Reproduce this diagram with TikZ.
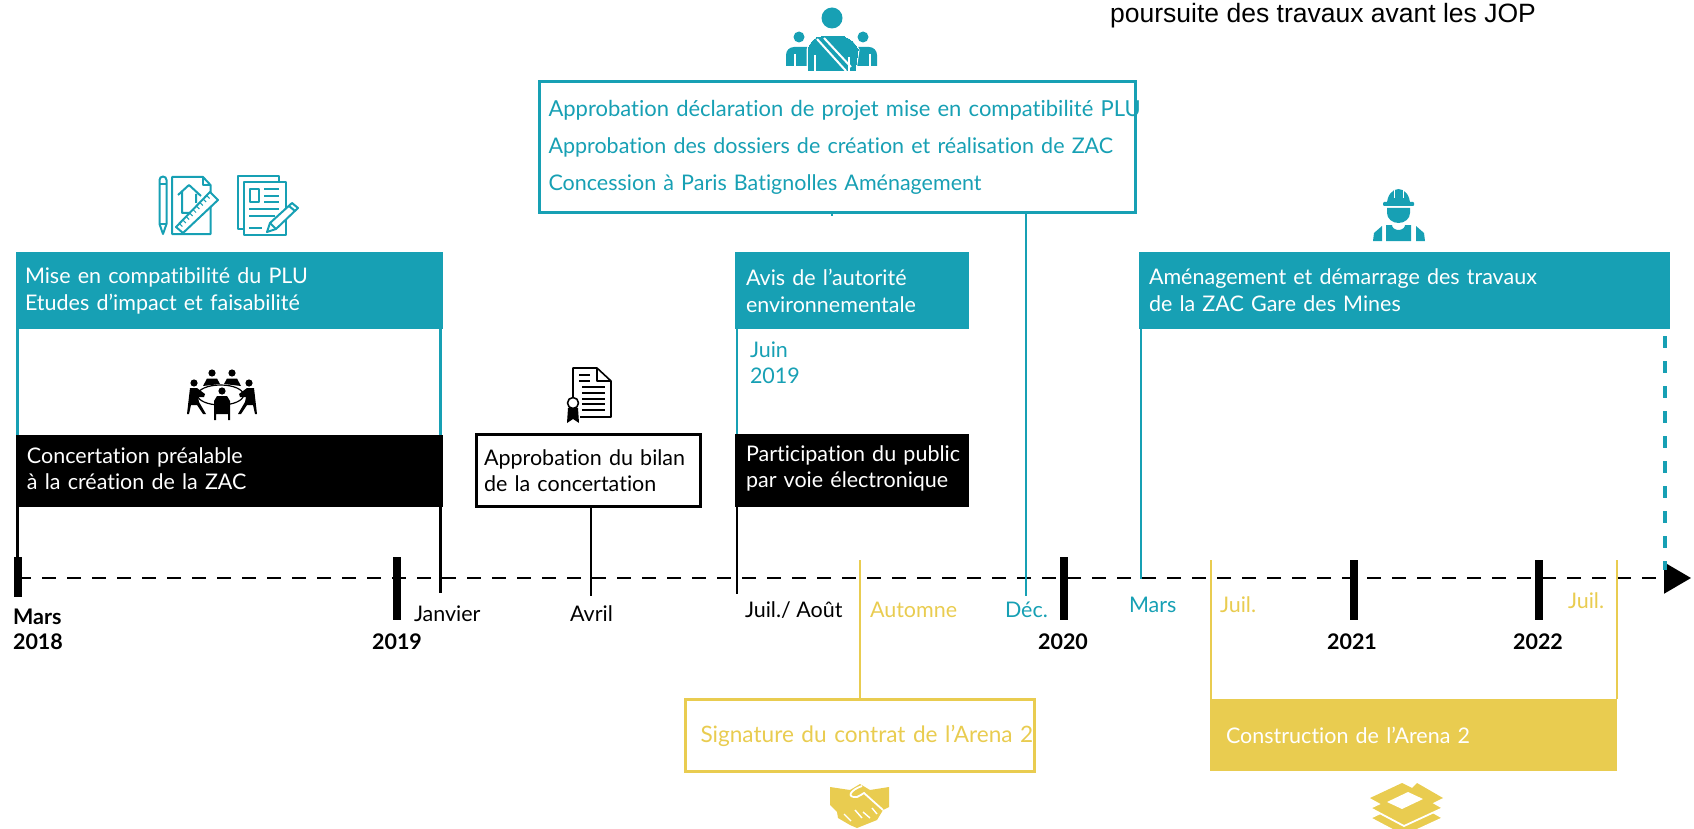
\documentclass[tikz,border=0pt]{standalone}
\usepackage{fontspec}
\setmainfont{Lato}[Ligatures=NoCommon]
\newfontfamily\arialfont{Liberation Sans}
\usetikzlibrary{arrows.meta,calc}
\definecolor{zacteal}{HTML}{17A0B4}
\definecolor{arenagold}{HTML}{E9CC50}
\newcommand{\liftbox}{\par\vspace{4pt}}
\tikzset{
    fullbox/.style={rectangle, anchor=north west, inner sep=0pt, outer sep=0pt, align=left, font=\fontsize{21.5}{27}\selectfont},
    tealbox/.style={fullbox, fill=zacteal, text=white},
    blackbox/.style={fullbox, fill=black, text=white, font=\fontsize{21.5}{26}\selectfont},
    goldbox/.style={fullbox, fill=arenagold, text=white},
    openbox/.style={fullbox, draw=#1, line width=3pt, fill=white},
    lab/.style={anchor=base west, inner sep=0pt, outer sep=0pt, font=\fontsize{21.5}{27}\selectfont},
    yearlab/.style={anchor=base, inner sep=0pt, outer sep=0pt, align=left, font=\fontsize{21.5}{25}\selectfont\bfseries},
    yeartick/.style={rectangle, fill=black, anchor=north, minimum width=8pt, inner sep=0pt, outer sep=0pt},
    blackline/.style={draw=black, line width=2.4pt},
    tealline/.style={draw=zacteal, line width=2.6pt},
    goldline/.style={draw=arenagold, line width=2.4pt},
    tealicon/.style={draw=zacteal, line width=2pt, line join=round},
    blackicon/.style={draw=black, line width=1.6pt, line join=round}
}
\begin{document}
\begin{tikzpicture}[x=1pt, y=-1pt]
    \useasboundingbox (0,0) rectangle (1694,829);

    % Axis
    \coordinate (axisstart) at (17,578);
    \coordinate (axisend) at (1691,578);
    \draw[line width=2.2pt, dash pattern=on 14pt off 11pt, -{Triangle[length=27pt, width=31pt]}] (axisstart) -- (axisend);

    % Boxes
    \node[tealbox, minimum width=427pt, minimum height=77pt, text width=409pt] at (16,252) (plu) {Mise en compatibilité du PLU\\Etudes d’impact et faisabilité};
    \node[blackbox, minimum width=427pt, minimum height=72pt, text width=405pt] at (16,435) (concert) {Concertation préalable\\à la création de la ZAC\liftbox};
    \node[openbox=black, minimum width=224pt, minimum height=72pt, text width=209pt, font=\fontsize{21.5}{26}\selectfont] at (476.5,434.5) (bilan) {Approbation du bilan\\de la concertation\liftbox};
    \node[tealbox, minimum width=234pt, minimum height=77pt, text width=212pt] at (735,252) (avis) {Avis de l’autorité\\environnementale};
    \node[blackbox, minimum width=234pt, minimum height=73pt, text width=212pt] at (735,434) (public) {\mbox{Participation du public}\\par voie électronique\liftbox};
    \node[openbox=zacteal, minimum width=596pt, minimum height=131pt, text width=578pt, text=zacteal, font=\fontsize{21.5}{37}\selectfont] at (539.5,81.5) (decl) {\mbox{\fontsize{22}{37}\selectfont Approbation déclaration de projet mise en compatibilité PLU}\\\mbox{Approbation des dossiers de création et réalisation de ZAC}\\Concession à Paris Batignolles Aménagement};
    \node[tealbox, minimum width=531pt, minimum height=77pt, text width=511pt] at (1139,252) (amenag) {Aménagement et démarrage des travaux\\de la ZAC Gare des Mines};
    \node[openbox=arenagold, minimum width=349pt, minimum height=72pt, text width=319pt, text=arenagold, line width=2.4pt, font=\fontsize{22.6}{27}\selectfont] at (685.5,699.5) (signature) {\mbox{Signature du contrat de l’Arena 2}};
    \node[goldbox, minimum width=407pt, minimum height=72pt, text width=375pt] at (1210,699) (arena) {Construction de l’Arena 2};

    % Ticks
    \node[yeartick, minimum height=40pt] at (18,557) (t2018) {};
    \node[yeartick, minimum height=63pt] at (397,557) (t2019) {};
    \node[yeartick, minimum height=63pt] at (1064,557) (t2020) {};
    \node[yeartick, minimum height=60pt] at (1354,560) (t2021) {};
    \node[yeartick, minimum height=60pt] at (1539,560) (t2022) {};

    % Free ends on the axis
    \coordinate (mars18) at (17.5,557);
    \coordinate (janv) at (440.5,593);
    \coordinate (avril) at (591,596);
    \coordinate (juil19) at (737,594);
    \coordinate (autom) at (860,560);
    \coordinate (dec) at (1026,596);
    \coordinate (mars20) at (1141,579);
    \coordinate (juil20) at (1211,560);
    \coordinate (juil22) at (1617,560);
    \coordinate (fin) at (1665,570);

    % Connectors
    \draw[blackline] (concert.south -| mars18) -- (mars18);
    \draw[blackline] (concert.south -| janv) -- (janv);
    \draw[blackline] (bilan.south -| avril) -- (avril);
    \draw[blackline] (public.south -| juil19) -- (juil19);
    \draw[tealline] (plu.south -| mars18) -- (concert.north -| mars18);
    \draw[tealline] (plu.south -| janv) -- (concert.north -| janv);
    \draw[tealline] (avis.south -| juil19) -- (public.north -| juil19);
    \draw[tealline] (decl.south -| dec) -- (dec);
    \draw[tealline] (amenag.south -| mars20) -- (mars20);
    \draw[tealline, line width=3.5pt, dash pattern=on 12pt off 13pt] (1665,336) coordinate (finhaut) -- (fin);
    \draw[goldline] (autom) -- (signature.north -| autom);
    \draw[goldline] (juil20) -- (arena.north -| juil20);
    \draw[goldline] (juil22) -- (arena.north -| juil22);

    % Labels
    \node[yearlab] at (38,649) (lmars) {Mars\\2018};
    \node[yearlab] at (397,649) (l2019) {2019};
    \node[yearlab] at (1063,649) (l2020) {2020};
    \node[yearlab] at (1352,649) (l2021) {2021};
    \node[yearlab] at (1538,649) (l2022) {2022};
    \node[lab] at (414,621) (ljanv) {Janvier};
    \node[lab] at (570,621) (lavril) {Avril};
    \node[lab] at (745,617) (ljuil) {Juil./ Août};
    \node[lab, text=arenagold] at (870,617) (lautom) {Automne};
    \node[lab, text=zacteal] at (1005,617) (ldec) {Déc.};
    \node[lab, text=zacteal] at (1129,612) (lmars20) {Mars};
    \node[lab, text=arenagold] at (1220,612) (ljuil20) {Juil.};
    \node[lab, text=arenagold] at (1568,608) (ljuil22) {Juil.};
    \node[lab, text=zacteal, align=left, font=\fontsize{21.5}{26}\selectfont] at (750,383) (ljuin) {Juin\\2019};
    \node[anchor=base west, inner sep=0pt, font=\arialfont\fontsize{26.5}{30}\selectfont] at (1110,23) (ljop) {poursuite des travaux avant les JOP};

    % Plan icon
    \draw[tealicon] (159.5,180) arc (180:360:3.5) -- (166.5,224) -- (163,234) -- (159.5,224) -- cycle;
    \draw[tealicon] (159.5,184) -- (166.5,184) (159.5,224) -- (166.5,224);
    \draw[tealicon] (172,177) -- (203,177) -- (210.5,185) -- (210.5,234) -- (172,234) -- cycle;
    \draw[tealicon] (203,177) -- (203,185) -- (210.5,185);
    \draw[tealicon] (178,195) -- (189,185) -- (201,196) (182,192) -- (182,213) -- (192,213) (196,194) -- (196,203);
    \draw[tealicon, fill=white] (176,227) -- (210,192) -- (218,200) -- (183,233) -- cycle;
    \foreach \t in {1,...,9}
        \draw[zacteal, line width=1pt] ($(176,227)!\t/10!(210,192)$) -- ++(3,3);

    % Document icon
    \draw[tealicon] (244,229) -- (238,229) -- (238,176) -- (279,176) -- (279,182);
    \draw[tealicon, fill=white] (244,182) -- (286,182) -- (286,235) -- (244,235) -- cycle;
    \draw[tealicon] (250,189) rectangle (259,202);
    \draw[tealicon] (264,189) -- (279,189) (264,196) -- (279,196) (264,202) -- (279,202);
    \draw[tealicon] (249,209) -- (279,209) (249,216) -- (275,216) (249,228) -- (262,228);
    \draw[tealicon, fill=white] (267,232) -- (270,223) -- (292,203) -- (298,208) -- (276,229) -- cycle;
    \draw[tealicon] (270,223) -- (276,229) (289,206) -- (295,211);

    % Meeting icon
    \draw[line width=1.2pt] (220.5,395) ellipse (23 and 10);
    \foreach \hx/\hy in {212/373, 232/373, 194/383, 249/383, 222/391}
        \fill (\hx,\hy) circle (3.6);
    \fill (203,386) -- (207,378.5) -- (217,378.5) -- (220,384) -- cycle;
    \fill (224,384) -- (227,378.5) -- (237,378.5) -- (241,386) -- cycle;
    \fill (190,388) -- (197,388) -- (205,394) -- (204,397) -- (198,397) -- (199,402) -- (206,414) -- (203,414) -- (197,405) -- (191,405) -- (189,414) -- (187,414) -- cycle;
    \fill (254,388) -- (247,388) -- (239,394) -- (240,397) -- (246,397) -- (245,402) -- (238,414) -- (241,414) -- (247,405) -- (253,405) -- (255,414) -- (257,414) -- cycle;
    \fill (217,396) -- (227,396) -- (230,401) -- (230,420) -- (228,420) -- (228,414) -- (216,414) -- (216,420) -- (214,420) -- (214,401) -- cycle;

    % Certificate icon
    \draw[blackicon] (573,397) -- (573,368) -- (597,368) -- (611,381) -- (611,417) -- (580,417);
    \draw[blackicon] (597,368) -- (597,381) -- (611,381);
    \draw[blackicon] (579,375) -- (590,375) (579,381) -- (590,381);
    \foreach \ly in {387,393,399,404,410}
        \draw[blackicon] (582,\ly) -- (605,\ly);
    \fill (568,408) -- (578,408) -- (579,423) -- (573,419) -- (567,423) -- cycle;
    \draw[blackicon, fill=white] (573,403) circle (5.5);

    % Group icon
    \fill[zacteal] (832,18) circle (10.5);
    \fill[zacteal] (799,37) circle (5.5);
    \fill[zacteal] (863,37) circle (5.5);
    \fill[zacteal] (786,66) -- (786,55) arc (180:270:8) -- (810,47) -- (810,66) -- cycle;
    \fill[zacteal] (877,66) -- (877,55) arc (0:-90:8) -- (853,47) -- (853,66) -- cycle;
    \draw[white, line width=1.5pt] (795,54) -- (795,66) (870,54) -- (870,66);
    \draw[zacteal, line width=0pt, fill=zacteal, preaction={draw=white, line width=3pt}] (808,71) -- (808,50) .. controls (810,42) and (815,37) .. (821,37) -- (844,37) .. controls (851,39) and (856,44) .. (858,50) -- (855,71) -- cycle;
    \draw[white, line width=2pt] (817,39) -- (846,71) (824,38) -- (851,67);
    \draw[white, line width=1.5pt] (815,55) -- (815,71) (849,57) -- (849,71);

    % Worker icon
    \fill[zacteal] (1387,204) arc (180:360:11.5 and 15) -- cycle;
    \fill[zacteal, rounded corners=1pt] (1383,202) rectangle (1414,206);
    \draw[white, line width=1pt] (1394,190) -- (1394,198) (1403,190) -- (1403,198);
    \fill[zacteal] (1387,208) -- (1410,208) -- (1410,213) arc (0:180:11.5 and 10) -- cycle;
    \fill[zacteal] (1386,241) -- (1386,225) -- (1392,225) arc (180:0:6.5 and 5) -- (1411,225) -- (1411,241) -- cycle;
    \fill[zacteal] (1373,241) -- (1374,233) -- (1382,226) -- (1382,241) -- cycle;
    \fill[zacteal] (1425,241) -- (1424,233) -- (1416,226) -- (1416,241) -- cycle;

    % Handshake icon
    \fill[arenagold] (830,787) -- (850,790) -- (860,784) -- (870,790) -- (889,787) -- (889,807) -- (883,810) -- (877,820) -- (857,828) -- (850,825) -- (838,818) -- (837,812) -- (830,805) -- cycle;
    \draw[white, line width=1.8pt] (862,786) .. controls (850,790) and (846,798) .. (857,797) .. controls (860,796) and (862,794) .. (864,793) -- (883,810);
    \draw[white, line width=1.4pt] (844,814) -- (851,821) (855,810) -- (862,818) (863,812) -- (870,818) (872,808) -- (877,814);

    % Stack icon
    \foreach \oy in {20,10}
        \draw[fill=arenagold, draw=white, line width=1.8pt] (1370,798+\oy) -- (1402,783+\oy) -- (1417,783+\oy) -- (1443,798+\oy) -- (1404,816+\oy) -- cycle;
    \fill[arenagold] (1370,798) -- (1402,783) -- (1412,788) -- (1417,783) -- (1443,798) -- (1404,817) -- cycle;
    \fill[white] (1387,802) -- (1408,792) -- (1423,799) -- (1402,809) -- cycle;

    % Small stub below the top box
    \coordinate (stub) at (832,216);
    \draw[line width=1.2pt, draw=zacteal] (decl.south -| stub) -- (stub);
\end{tikzpicture}
\end{document}
